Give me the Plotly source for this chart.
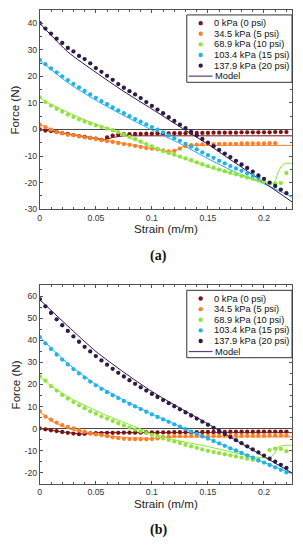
import plotly.graph_objects as go

# page body has an 8px margin; the figure is laid out in page pixels via OFF
OFF = 8
W, H = 287, 534

# ---------------- data ----------------
strain = [0.000, 0.005, 0.010, 0.015, 0.020, 0.025, 0.030, 0.035, 0.040, 0.045,
          0.050, 0.055, 0.060, 0.065, 0.070, 0.075, 0.080, 0.085, 0.090, 0.095,
          0.100, 0.105, 0.110, 0.115, 0.120, 0.125, 0.130, 0.135, 0.140, 0.145,
          0.150, 0.155, 0.160, 0.165, 0.170, 0.175, 0.180, 0.185, 0.190, 0.195,
          0.200, 0.205, 0.210, 0.215, 0.220]

series_labels = ["0 kPa (0 psi)", "34.5 kPa (5 psi)", "68.9 kPa (10 psi)",
                 "103.4 kPa (15 psi)", "137.9 kPa (20 psi)"]
model_label = "Model"
colors = ["#7d1212", "#ff7f27", "#8fe43c", "#22b2ea", "#2e1a47"]
model_legend_color = "#5b3d7a"
line_shapes = ["linear", "linear", "linear", "spline", "spline"]

# ----- panel (a) measured -----
a_0kpa = [0, -0.4, -0.6, -1.0, -1.4, -1.7, -2.1, -2.5, -2.8, -3.2,
          -3.5, -3.9, -3.0, -2.3, -2.0, -1.8, -1.8, -1.7, -1.7, -1.6,
          -1.6, -1.5, -1.5, -1.5, -1.4, -1.4, -1.4, -1.3, -1.3, -1.3,
          -1.3, -1.2, -1.2, -1.2, -1.2, -1.2, -1.1, -1.1, -1.1, -1.1,
          -1.1, -1.1, -1.0, -1.0, -1.0]
a_34kpa = [1.8, 0.9, -0.1, -1.0, -1.4, -2.0, -2.2, -2.6, -3.0, -3.2,
           -3.6, -4.0, -4.4, -4.7, -5.1, -5.5, -5.8, -6.2, -6.6, -7.0,
           -7.2, -7.5, -7.9, -8.3, -8.1, -7.2, -6.3, -5.9, -5.7, -5.6,
           -5.5, -5.5, -5.4, -5.4, -5.4, -5.4, -5.3, -5.3, -5.3, -5.3,
           -5.3, -5.2, -5.2, None, None]
a_69kpa = [12.1, 10.3, 9.0, 7.8, 6.7, 5.6, 4.7, 3.8, 3.0, 2.2,
           1.5, 0.9, 0.3, -0.3, -1.0, -1.9, -2.8, -3.7, -4.6, -5.5,
           -6.4, -7.3, -8.2, -8.9, -9.5, -10.2, -10.9, -11.6, -12.4, -13.1,
           -13.8, -14.4, -15.1, -15.7, -16.3, -16.9, -17.5, -18.1, -18.6, -19.2,
           -19.7, -20.1, -20.4, -20.2, -16.4]
a_103kpa = [26.2, 24.6, 23.0, 21.5, 20.0, 18.6, 17.2, 15.8, 14.5, 13.2,
            11.9, 10.7, 9.5, 8.3, 7.2, 6.1, 5.0, 3.9, 2.9, 1.9,
            0.9, -0.1, -1.1, -2.2, -3.3, -4.3, -5.4, -6.5, -7.5, -8.6,
            -9.7, -10.7, -11.8, -12.8, -13.8, -14.7, -15.6, -16.5, -17.4, -18.2,
            None, None, None, None, None]
a_138kpa = [40.0, 38.0, 36.1, 34.2, 32.6, 30.7, 29.4, 27.7, 26.5, 24.9,
            23.1, 21.7, 20.2, 18.7, 17.1, 15.7, 14.4, 13.2, 11.8, 10.3,
            8.9, 7.5, 6.1, 4.6, 3.2, 1.8, 0.5, -0.9, -2.2, -3.6,
            -5.0, -6.3, -7.7, -9.1, -10.4, -11.8, -13.2, -14.5, -15.9, -17.3,
            -18.6, -20.0, -21.3, -22.7, -24.0]

# ----- panel (a) model -----
a_m0_x = [0, 0.03, 0.058, 0.065, 0.075, 0.225]
a_m0_y = [0, -2.0, -3.9, -3.0, -2.4, -2.4]
a_m34_x = [0, 0.02, 0.06, 0.1, 0.118, 0.123, 0.13, 0.225]
a_m34_y = [1.8, -1.5, -4.2, -7.0, -8.5, -7.5, -6.0, -6.0]
a_m69_x = [0, 0.01, 0.02, 0.03, 0.04, 0.065, 0.1, 0.15, 0.2, 0.207, 0.2105, 0.2127, 0.2155, 0.2186, 0.225]
a_m69_y = [12.0, 9.4, 7.4, 5.4, 3.6, -0.3, -6.6, -14.2, -20.0, -20.8, -19.0, -16.0, -13.8, -12.8, -12.7]
a_m103_x = [0, 0.025, 0.05, 0.075, 0.1, 0.125, 0.15, 0.175, 0.195, 0.225]
a_m103_y = [26.0, 17.6, 11.0, 5.2, -0.2, -5.3, -11.0, -16.2, -19.5, -25.5]
a_m138_x = [0, 0.025, 0.05, 0.075, 0.1, 0.125, 0.15, 0.175, 0.2, 0.225]
a_m138_y = [40.0, 29.2, 21.5, 14.3, 7.7, 1.0, -5.6, -12.8, -20.0, -27.3]

# ----- panel (b) measured -----
b_0kpa = [0, -0.4, -0.8, -1.2, -1.6, -2.0, -2.3, -2.6, -2.4, -2.2,
          -2.1, -2.1, -2.0, -2.0, -2.0, -1.9, -1.9, -1.9, -1.9, -1.8,
          -1.8, -1.8, -1.8, -1.8, -1.7, -1.7, -1.7, -1.7, -1.7, -1.6,
          -1.6, -1.6, -1.6, -1.6, -1.5, -1.5, -1.5, -1.5, -1.5, -1.5,
          -1.4, -1.4, -1.4, -1.4, -1.4]
b_34kpa = [7.8, 5.4, 4.0, 2.7, 1.5, 0.7, 0.0, -0.8, -1.5, -2.2,
           -2.7, -3.0, -3.5, -4.0, -4.4, -4.7, -4.8, -4.9, -4.9, -4.9,
           -4.8, -4.5, -3.9, -3.6, -3.5, -3.5, -3.5, -3.4, -3.4, -3.4,
           -3.4, -3.4, -3.4, -3.3, -3.3, -3.3, -3.3, -3.3, -3.3, -3.3,
           -3.3, -3.2, -3.2, -3.2, -3.2]
b_69kpa = [23.6, 21.7, 19.2, 17.2, 15.2, 13.6, 12.0, 10.5, 9.2, 7.8,
           6.7, 5.5, 4.5, 3.4, 2.4, 1.4, 0.4, -0.5, -1.3, -2.1,
           -2.9, -3.7, -4.5, -5.2, -5.9, -6.6, -7.4, -8.1, -8.8, -9.5,
           -10.2, -10.7, -11.2, -11.7, -12.2, -12.7, -13.2, -13.7, -14.2, -14.7,
           -12.5, -9.8, -9.2, -9.3, -10.3]
b_103kpa = [41.5, 38.7, 36.1, 33.6, 31.3, 29.1, 27.0, 25.0, 23.1, 21.3,
            19.6, 18.0, 16.5, 15.1, 13.8, 12.5, 11.2, 10.0, 8.8, 7.6,
            6.4, 5.2, 4.1, 3.0, 1.9, 0.8, -0.3, -1.4, -2.5, -3.6,
            -4.6, -5.7, -6.8, -7.9, -9.0, -10.0, -11.1, -12.2, -13.3, -14.4,
            -15.5, -16.6, -17.7, -18.8, -19.9]
b_138kpa = [58.7, 55.5, 52.5, 49.6, 46.9, 44.3, 41.8, 39.4, 37.1, 35.0,
            32.9, 30.9, 29.0, 27.1, 25.3, 23.6, 21.9, 20.3, 18.7, 17.2,
            15.7, 14.3, 12.9, 11.5, 10.1, 8.7, 7.3, 5.9, 4.5, 3.1,
            1.7, 0.3, -1.1, -2.5, -3.9, -5.3, -6.7, -8.1, -9.5, -10.9,
            -12.3, -13.7, -15.1, -16.5, -17.9]

# ----- panel (b) model -----
b_m0_x = [0, 0.02, 0.04, 0.05, 0.225]
b_m0_y = [0, -1.6, -2.6, -1.9, -1.9]
b_m34_x = [0, 0.01, 0.02, 0.03, 0.05, 0.08, 0.1, 0.11, 0.12, 0.225]
b_m34_y = [7.6, 3.5, 1.0, -0.8, -2.8, -4.3, -4.5, -4.0, -3.8, -3.8]
b_m69_x = [0, 0.01, 0.02, 0.03, 0.04, 0.06, 0.08, 0.1, 0.12, 0.15, 0.188, 0.205, 0.209, 0.2127, 0.217, 0.225]
b_m69_y = [23.5, 19.3, 16.0, 13.0, 10.5, 5.8, 1.8, -2.2, -5.2, -8.2, -12.7, -13.6, -11.5, -8.4, -7.7, -7.6]
b_m103_x = [0, 0.025, 0.05, 0.075, 0.1, 0.125, 0.15, 0.175, 0.2, 0.225]
b_m103_y = [41.5, 29.5, 20.0, 12.8, 6.6, 0.9, -4.6, -10.0, -15.4, -20.5]
b_m138_x = [0, 0.025, 0.05, 0.075, 0.1, 0.125, 0.15, 0.175, 0.2, 0.225]
b_m138_y = [58.5, 46.5, 35.0, 25.5, 16.8, 9.3, 2.1, -5.4, -12.8, -20.2]

x_tickvals = [0, 0.05, 0.1, 0.15, 0.2]
x_ticktext = ["0", "0.05", "0.1", "0.15", "0.2"]
a_y_tickvals = [-30, -20, -10, 0, 10, 20, 30, 40]
b_y_tickvals = [-20, -10, 0, 10, 20, 30, 40, 50, 60]

# ---------------- figure ----------------
fig = go.Figure()

panels = [
    ("x", "y",
     [(a_m0_x, a_m0_y), (a_m34_x, a_m34_y), (a_m69_x, a_m69_y), (a_m103_x, a_m103_y), (a_m138_x, a_m138_y)],
     [a_0kpa, a_34kpa, a_69kpa, a_103kpa, a_138kpa]),
    ("x2", "y2",
     [(b_m0_x, b_m0_y), (b_m34_x, b_m34_y), (b_m69_x, b_m69_y), (b_m103_x, b_m103_y), (b_m138_x, b_m138_y)],
     [b_0kpa, b_34kpa, b_69kpa, b_103kpa, b_138kpa]),
]

for xa, ya, models, meas in panels:
    for (mx, my), c, shp in zip(models, colors, line_shapes):
        fig.add_trace(go.Scatter(x=mx, y=my, mode="lines", xaxis=xa, yaxis=ya,
                                 line=dict(color=c, width=1, shape=shp, smoothing=0.6),
                                 showlegend=False, hoverinfo="skip"))
    for vals, c, lab in zip(meas, colors, series_labels):
        fig.add_trace(go.Scatter(x=strain, y=vals, mode="markers", xaxis=xa, yaxis=ya, name=lab,
                                 marker=dict(color=c, size=4.3, line=dict(width=0)),
                                 showlegend=False))

FONT = "Liberation Sans, Arial, Helvetica, sans-serif"
AX = "#505050"


def px_x(p):
    return (p - OFF) / W


def px_y(p):
    return 1 - (p - OFF) / H


x_dom = [px_x(38), px_x(292)]


def xaxis_cfg(anchor):
    return dict(domain=x_dom, anchor=anchor, range=[0, 0.225],
                tickmode="array", tickvals=x_tickvals, ticktext=x_ticktext,
                ticks="inside", ticklen=3, tickwidth=1, tickcolor=AX,
                showline=True, linecolor=AX, linewidth=1, mirror="allticks",
                showgrid=False, zeroline=False,
                tickfont=dict(family=FONT, size=8.7, color="#333"),
                minor=dict(tickmode="linear", tick0=0, dtick=0.01, ticks="inside",
                           ticklen=1.8, tickcolor=AX, showgrid=False))


def yaxis_cfg(anchor, dom, rng, tv):
    return dict(domain=dom, anchor=anchor, range=rng,
                tickmode="array", tickvals=tv, ticktext=[str(v) for v in tv],
                ticks="inside", ticklen=3, tickwidth=1, tickcolor=AX,
                showline=True, linecolor=AX, linewidth=1, mirror="allticks",
                showgrid=False, zeroline=True, zerolinecolor="#4a4a4a", zerolinewidth=1,
                tickfont=dict(family=FONT, size=8.7, color="#333"),
                minor=dict(tickmode="linear", tick0=0, dtick=5, ticks="inside",
                           ticklen=1.8, tickcolor=AX, showgrid=False))


annotations = []
shapes = []


def add_text(text, xp, yp, size, xanchor="center", angle=0, family=FONT, color="#222", bold=False):
    annotations.append(dict(text=("<b>%s</b>" % text) if bold else text,
                            x=px_x(xp), y=px_y(yp), xref="paper", yref="paper",
                            xanchor=xanchor, yanchor="middle", showarrow=False,
                            textangle=angle, borderpad=0,
                            font=dict(family=family, size=size, color=color)))


for top, bottom, cap in [(10, 211, "(a)"), (288, 488, "(b)")]:
    add_text("Force (N)", 13, (top + bottom) / 2, 11.6, angle=-90)
    add_text("Strain (m/m)", 165, bottom + 20, 11.6)
    add_text(cap, 158, bottom + 47, 14, family="Liberation Serif, Times New Roman, serif",
             color="#111", bold=True)
    # legend box
    lt = top + 5
    shapes.append(dict(type="rect", xref="paper", yref="paper",
                       x0=px_x(186), x1=px_x(292), y0=px_y(lt), y1=px_y(lt + 68),
                       line=dict(color="#333", width=1), fillcolor="white", layer="above"))
    for i in range(6):
        cy = lt + 8.3 + i * 10.7
        if i < 5:
            r = 2.2
            shapes.append(dict(type="circle", xref="paper", yref="paper",
                               x0=px_x(200 - r), x1=px_x(200 + r), y0=px_y(cy + r), y1=px_y(cy - r),
                               fillcolor=colors[i], line=dict(width=0), layer="above"))
            add_text(series_labels[i], 212, cy, 9.3, xanchor="left", color="#111")
        else:
            shapes.append(dict(type="line", xref="paper", yref="paper",
                               x0=px_x(188), x1=px_x(212), y0=px_y(cy), y1=px_y(cy),
                               line=dict(color=model_legend_color, width=1.2), layer="above"))
            add_text(model_label, 213, cy, 9.3, xanchor="left", color="#111")

fig.update_layout(
    width=W, height=H, autosize=False,
    margin=dict(l=0, r=0, t=0, b=0),
    paper_bgcolor="white", plot_bgcolor="white",
    showlegend=False,
    xaxis=xaxis_cfg("y"),
    yaxis=yaxis_cfg("x", [px_y(211), px_y(10)], [-30, 45], a_y_tickvals),
    xaxis2=xaxis_cfg("y2"),
    yaxis2=yaxis_cfg("x2", [px_y(488), px_y(288)], [-25, 65], b_y_tickvals),
    annotations=annotations,
    shapes=shapes,
)

fig.write_html("out.html")
